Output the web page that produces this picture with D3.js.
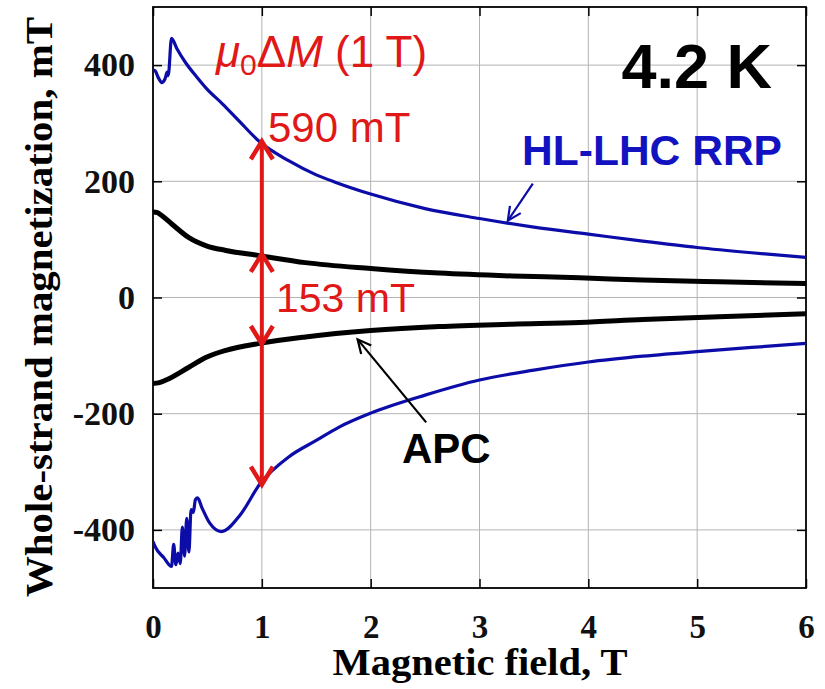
<!DOCTYPE html>
<html>
<head>
<meta charset="utf-8">
<script src="https://cdn.jsdelivr.net/npm/d3@7"></script>
<style>
  body { margin: 0; background: #fff; }
  svg { display: block; }
</style>
</head>
<body>
<div id="chart"></div>
<script>
// magnetization loops at 4.2 K (field in T, M in mT)
var rrpUpX = [0, 0.02, 0.05, 0.08, 0.11, 0.13, 0.14, 0.17, 0.22, 0.3, 0.4, 0.49, 0.64, 0.79, 0.98, 1.25, 1.5, 1.68, 2.0, 2.5, 3.0, 3.5, 4.0, 4.5, 5.0, 5.5, 6.0];
var rrpUpY = [392, 390, 378, 370, 376, 388, 382, 446, 428, 404, 380, 360, 333, 304, 268, 235, 211, 198, 178, 153, 136, 121, 109, 97, 86, 77, 69];

var rrpDnX = [0, 0.02, 0.1, 0.17, 0.19, 0.21, 0.23, 0.25, 0.27, 0.29, 0.31, 0.33, 0.35, 0.37, 0.39, 0.41, 0.45, 0.52, 0.63, 0.79, 0.99, 1.25, 1.5, 1.71, 2.0, 2.5, 3.0, 3.5, 4.0, 4.5, 5.0, 5.5, 6.0];
var rrpDnY = [-420, -429, -448, -463, -425, -460, -440, -458, -395, -445, -380, -438, -365, -370, -348, -345, -362, -388, -403, -377, -319, -274, -246, -223, -199, -168, -142, -125, -111, -101, -93, -86, -79];

var apcUpX = [0, 0.04, 0.08, 0.17, 0.33, 0.49, 0.67, 0.98, 1.4, 2.0, 2.63, 3.3, 3.92, 4.5, 5.2, 6.0];
var apcUpY = [147, 146, 141, 127, 103, 89, 81, 72, 60, 50, 42, 37, 34, 30, 27, 24];

var apcDnX = [0, 0.05, 0.12, 0.33, 0.49, 0.67, 0.98, 1.4, 2.0, 2.63, 3.3, 3.92, 4.5, 5.2, 6.0];
var apcDnY = [-148, -147, -142, -120, -103, -91, -79, -68, -57, -50, -46, -43, -38, -33, -28];

var xTicks = [0, 1, 2, 3, 4, 5, 6];
var yTicks = [-400, -200, 0, 200, 400];

var width = 825, height = 689;
var margin = {left: 153, right: 19, top: 7, bottom: 101};

var svg = d3.select("#chart").append("svg")
    .attr("width", width)
    .attr("height", height);

var x = d3.scaleLinear().domain([0, 6]).range([margin.left, width - margin.right]);
var y = d3.scaleLinear().domain([-500, 500]).range([height - margin.bottom, margin.top]);

// grid
svg.append("g").selectAll("line")
    .data(xTicks.slice(1, -1)).enter().append("line")
    .attr("x1", function(d) { return x(d); }).attr("x2", function(d) { return x(d); })
    .attr("y1", y(-500)).attr("y2", y(500))
    .attr("stroke", "#b4b4b4").attr("stroke-width", 1);
svg.append("g").selectAll("line")
    .data(yTicks).enter().append("line")
    .attr("y1", function(d) { return y(d); }).attr("y2", function(d) { return y(d); })
    .attr("x1", x(0)).attr("x2", x(6))
    .attr("stroke", "#b4b4b4").attr("stroke-width", 1);

// axes with inward ticks on all four sides
var serif = "'Liberation Serif', 'Times New Roman', serif";
var xAxis = svg.append("g")
    .attr("transform", "translate(0," + y(-500) + ")")
    .call(d3.axisBottom(x).tickValues(xTicks).tickFormat(d3.format("d"))
        .tickSizeInner(-9).tickSizeOuter(0).tickPadding(27));
var yAxis = svg.append("g")
    .attr("transform", "translate(" + x(0) + ",0)")
    .call(d3.axisLeft(y).tickValues(yTicks).tickSizeInner(-9).tickSizeOuter(0).tickPadding(18)
        .tickFormat(function(d) { return d < 0 ? "-" + Math.abs(d) : d; }));
svg.append("g")
    .attr("transform", "translate(0," + y(500) + ")")
    .call(d3.axisTop(x).tickValues(xTicks).tickSizeInner(-9).tickSizeOuter(0).tickFormat(""));
svg.append("g")
    .attr("transform", "translate(" + x(6) + ",0)")
    .call(d3.axisRight(y).tickValues(yTicks).tickSizeInner(-9).tickSizeOuter(0).tickFormat(""));

svg.selectAll(".domain").remove();
svg.selectAll(".tick line").attr("stroke", "#000").attr("stroke-width", 1.5);
xAxis.selectAll("text").style("font", "bold 33px " + serif).attr("fill", "#111");
yAxis.selectAll("text").style("font", "bold 34px " + serif).attr("fill", "#111");

svg.append("rect")
    .attr("x", x(0)).attr("y", y(500))
    .attr("width", x(6) - x(0)).attr("height", y(-500) - y(500))
    .attr("fill", "none").attr("stroke", "#000").attr("stroke-width", 1.8);

// axis titles
svg.append("text")
    .attr("x", 480).attr("y", 675)
    .attr("text-anchor", "middle")
    .attr("textLength", 295).attr("lengthAdjust", "spacingAndGlyphs")
    .style("font", "bold 37px " + serif)
    .text("Magnetic field, T");
svg.append("text")
    .attr("transform", "translate(52,307) rotate(-90)")
    .attr("text-anchor", "middle")
    .attr("textLength", 580).attr("lengthAdjust", "spacingAndGlyphs")
    .style("font", "bold 38px " + serif)
    .text("Whole-strand magnetization, mT");

// curves
var smooth = d3.line().curve(d3.curveMonotoneX)
    .x(function(d) { return x(d[0]); }).y(function(d) { return y(d[1]); });

function pts(xs, ys) { return xs.map(function(v, i) { return [v, ys[i]]; }); }

svg.append("clipPath").attr("id", "plotclip").append("rect")
    .attr("x", x(0)).attr("y", y(500)).attr("width", x(6) - x(0)).attr("height", y(-500) - y(500));

var blue = "#0c0ca8";
var curves = svg.append("g").attr("clip-path", "url(#plotclip)");
curves.append("path").attr("d", smooth(pts(apcUpX, apcUpY)))
    .attr("fill", "none").attr("stroke", "#000").attr("stroke-width", 5);
curves.append("path").attr("d", smooth(pts(apcDnX, apcDnY)))
    .attr("fill", "none").attr("stroke", "#000").attr("stroke-width", 5);
curves.append("path").attr("d", smooth(pts(rrpUpX, rrpUpY)))
    .attr("fill", "none").attr("stroke", blue).attr("stroke-width", 3.2).attr("stroke-linejoin", "round");
curves.append("path").attr("d", smooth(pts(rrpDnX, rrpDnY)))
    .attr("fill", "none").attr("stroke", blue).attr("stroke-width", 3.2).attr("stroke-linejoin", "round");

// red double arrow at 1 T
var red = "#e01818";
function at(xs, ys, v) { return d3.scaleLinear().domain(xs).range(ys)(v); }
var topBlue = 269, botBlue = -322, topApc = 75, botApc = -80;
svg.append("line")
    .attr("x1", x(1)).attr("x2", x(1))
    .attr("y1", y(topBlue)).attr("y2", y(botBlue))
    .attr("stroke", red).attr("stroke-width", 4);
function head(py, dir) {
    var px = x(1), h = 18, w = 11;
    svg.append("path")
        .attr("d", "M" + (px - w) + "," + (py + dir * h) + "L" + px + "," + py + "L" + (px + w) + "," + (py + dir * h))
        .attr("fill", "none").attr("stroke", red).attr("stroke-width", 4.5).attr("stroke-linejoin", "miter");
}
head(y(topBlue), 1);
head(y(topApc), 1);
head(y(botApc), -1);
head(y(botBlue), -1);

// labels
var sans = "'Liberation Sans', Arial, sans-serif";
var mu = svg.append("text").attr("x", 216).attr("y", 67)
    .style("font", "44px " + sans).attr("fill", red);
mu.append("tspan").style("font-style", "italic").text("\u03bc");
mu.append("tspan").attr("dy", 8).style("font-size", "30px").text("0");
mu.append("tspan").attr("dy", -8).text("\u0394");
mu.append("tspan").style("font-style", "italic").text("M");
mu.append("tspan").text(" (1 T)");

svg.append("text").attr("x", 268).attr("y", 142)
    .style("font", "42px " + sans).attr("fill", red).text("590 mT");
svg.append("text").attr("x", 276).attr("y", 312)
    .style("font", "41px " + sans).attr("fill", red).text("153 mT");

svg.append("text").attr("x", 772).attr("y", 88).attr("text-anchor", "end")
    .style("font", "bold 63px " + sans).attr("fill", "#000").text("4.2 K");
svg.append("text").attr("x", 522).attr("y", 165)
    .attr("textLength", 260).attr("lengthAdjust", "spacingAndGlyphs")
    .style("font", "bold 42px " + sans).attr("fill", "#1212c0").text("HL-LHC RRP");
svg.append("text").attr("x", 402).attr("y", 463)
    .style("font", "bold 42px " + sans).attr("fill", "#000").text("APC");

// pointer arrows
function pointer(x0, y0, x1, y1, col) {
    var ang = Math.atan2(y1 - y0, x1 - x0), L = 15, a = 0.45;
    svg.append("line").attr("x1", x0).attr("y1", y0).attr("x2", x1).attr("y2", y1)
        .attr("stroke", col).attr("stroke-width", 2.2);
    svg.append("path")
        .attr("d", "M" + (x1 - L * Math.cos(ang - a)) + "," + (y1 - L * Math.sin(ang - a)) +
            "L" + x1 + "," + y1 +
            "L" + (x1 - L * Math.cos(ang + a)) + "," + (y1 - L * Math.sin(ang + a)))
        .attr("fill", "none").attr("stroke", col).attr("stroke-width", 2.2);
}
pointer(x(3.49), y(196), x(3.26), y(at(rrpUpX, rrpUpY, 3.26) + 4), blue);
pointer(x(2.51), y(-215), x(1.88), y(-72), "#000");
</script>
</body>
</html>
